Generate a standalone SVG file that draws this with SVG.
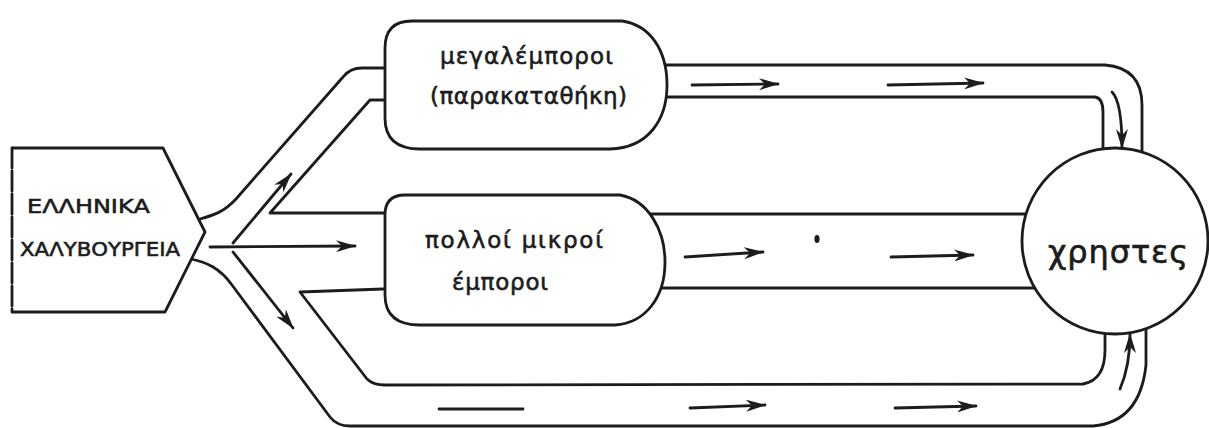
<svg xmlns="http://www.w3.org/2000/svg" width="1209" height="428" viewBox="0 0 1209 428">
  <defs>
    <style>
      .ln { fill: none; stroke: #1c1c1c; stroke-width: 2.8; stroke-linecap: round; stroke-linejoin: round; }
      .box { fill: #ffffff; stroke: #1c1c1c; stroke-width: 2.8; stroke-linejoin: round; }
      .arr { fill: none; stroke: #1c1c1c; stroke-width: 2.8; stroke-linecap: round; marker-end: url(#ah); }
      .lbl { font-family: "DejaVu Sans", "Noto Sans", sans-serif; fill: #1c1c1c; stroke: #1c1c1c; stroke-width: 0.6; }
    </style>
    <marker id="ah" viewBox="0 0 20 12" refX="19" refY="6" markerWidth="20" markerHeight="12" orient="auto" markerUnits="userSpaceOnUse">
      <path d="M0,0 L20,6 L0,12 L6,6 Z" fill="#1c1c1c"/>
    </marker>
  </defs>
  <rect width="1209" height="428" fill="#ffffff"/>

  <!-- channel walls and flow arrows -->
  <g id="connectors">
    <!-- upper channel: works -> wholesalers -->
    <path class="ln" d="M200,219 C214,215 224,212 236,199 L343,77 Q350,68 362,68 L385,68"/>
    <path class="ln" d="M385,100 L370,100 L270,213 L387,213"/>
    <!-- lower channel: works -> users (bottom loop) -->
    <path class="ln" d="M191,259 C206,262 220,268 232,285 L330,417 Q337,426 350,426 L1093,426 Q1140,422 1146,365 L1146,329"/>
    <path class="ln" d="M383,289 L300,292 L367,379 Q373,385 385,385 L1083,384 Q1105,380 1105,350 L1105,333"/>
    <!-- wholesalers -> users -->
    <path class="ln" d="M665,65 L1105,65 Q1142,68 1142,105 L1142,152"/>
    <path class="ln" d="M667,97 L1095,97 Q1103,98 1103,112 L1103,149"/>
    <!-- retailers -> users -->
    <path class="ln" d="M647,214 L1026,214"/>
    <path class="ln" d="M661,288 L1035,288"/>

    <!-- fan of arrows leaving the works -->
    <path class="arr" d="M210,247 L355,246"/>
    <path class="arr" d="M233,243 L291,174"/>
    <path class="arr" d="M233,252 L293,328"/>

    <!-- arrows along the channels -->
    <path class="arr" d="M692,85 L778,84"/>
    <path class="arr" d="M888,85 L983,83"/>
    <path class="arr" d="M1112,92 Q1122,102 1122,148"/>
    <path class="arr" d="M685,257 L763,252"/>
    <path class="arr" d="M891,257 L973,255"/>
    <ellipse cx="817" cy="239" rx="2.6" ry="4" fill="#1c1c1c"/>
    <path class="ln" d="M439,409 L523,409"/>
    <path class="arr" d="M690,408 L765,405"/>
    <path class="arr" d="M895,408 L976,406"/>
    <path class="arr" d="M1120,389 Q1130,366 1130,334"/>
  </g>

  <!-- steel works -->
  <g id="node-works">
    <path class="box" d="M12,148 L163,148 L205,232 L165,312 L12,312"/>
    <path class="ln" d="M12,148 L12,312" stroke-dasharray="20 3"/>
    <text class="lbl" x="27" y="213" font-size="20" textLength="123" lengthAdjust="spacingAndGlyphs">ΕΛΛΗΝΙΚΑ</text>
    <text class="lbl" x="20" y="256" font-size="20" textLength="160" lengthAdjust="spacingAndGlyphs">ΧΑΛΥΒΟΥΡΓΕΙΑ</text>
  </g>

  <!-- wholesalers (stock) -->
  <g id="node-wholesalers">
    <path class="box" d="M412,21 L622,21 C650,25 667,50 667,85 C667,120 648,148 610,149 L420,149 Q385,149 385,118 L385,48 Q385,21 412,21 Z"/>
    <text class="lbl" x="440" y="64" font-size="23" textLength="173" lengthAdjust="spacing">μεγαλέμποροι</text>
    <text class="lbl" x="430" y="104" font-size="23" textLength="197" lengthAdjust="spacing">(παρακαταθήκη)</text>
  </g>

  <!-- many small retailers -->
  <g id="node-retailers">
    <path class="box" d="M405,195 L620,195 C648,200 665,230 665,262 C665,298 645,323 615,325 L420,325 Q385,325 385,295 L385,215 Q385,195 405,195 Z"/>
    <text class="lbl" x="425" y="248" font-size="23" textLength="178" lengthAdjust="spacing">πολλοί μικροί</text>
    <text class="lbl" x="452" y="290" font-size="23" textLength="96" lengthAdjust="spacing">έμποροι</text>
  </g>

  <!-- users -->
  <g id="node-users">
    <circle class="box" cx="1115" cy="241" r="93"/>
    <text class="lbl" x="1048" y="263" font-size="32" textLength="140" lengthAdjust="spacing">χρηστες</text>
  </g>
</svg>
